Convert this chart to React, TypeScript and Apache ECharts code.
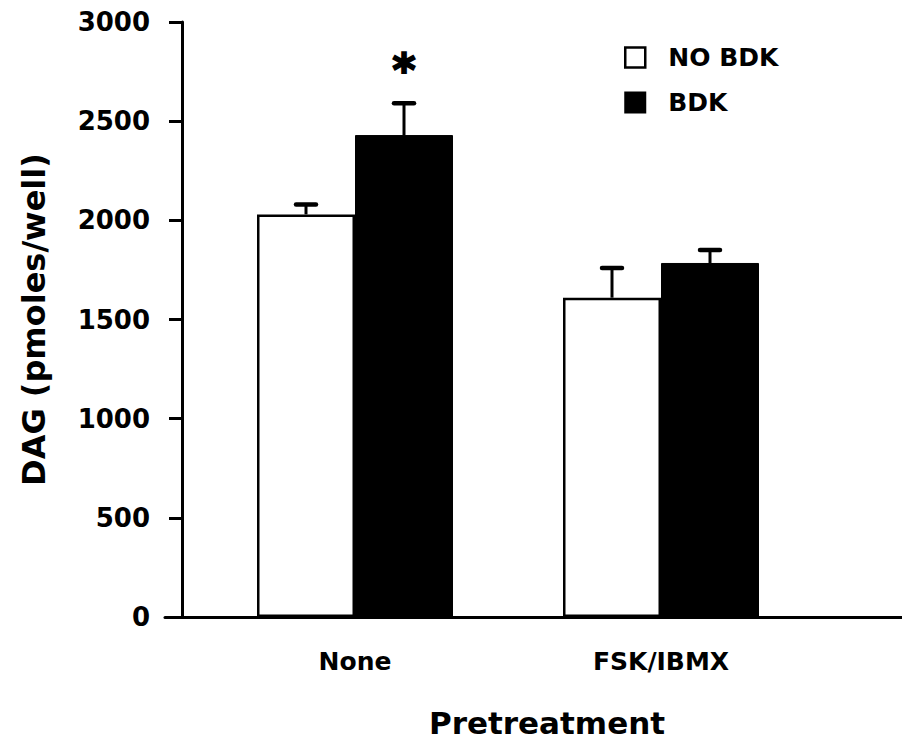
import React, { useEffect, useRef } from "react";
import * as echarts from "echarts";

const categories = ["None", "FSK/IBMX"];
const seriesNames = ["NO BDK", "BDK"];
const noBdkValues = [2030, 1610];
const bdkValues = [2430, 1785];
const noBdkErrors = [50, 150];
const bdkErrors = [160, 65];
// significance marker: category index, series index, value where the asterisk sits
const sigMarks = [[0, 1, 2760]];
const yMin = 0;
const yMax = 3000;
const yInterval = 500;

const FONT = "DejaVu Sans";
const BAR_W = 98;

export default function App() {
  const ref = useRef<HTMLDivElement>(null);
  useEffect(() => {
    const chart = echarts.init(ref.current!, null, { renderer: "svg" });
    const errData: number[][] = [];
    noBdkValues.forEach((v, i) => errData.push([i, v, noBdkErrors[i], -1]));
    bdkValues.forEach((v, i) => errData.push([i, v, bdkErrors[i], 1]));
    const starData = sigMarks.map((m) => [m[0], m[2], m[1] === 0 ? -1 : 1]);

    const option: any = {
      animation: false,
      backgroundColor: "#fff",
      textStyle: { fontFamily: FONT },
      legend: {
        orient: "vertical",
        left: 619,
        top: 40,
        itemWidth: 20,
        itemHeight: 20,
        itemGap: 20,
        selectedMode: false,
        textStyle: {
          fontFamily: FONT,
          fontWeight: "bold",
          fontSize: 25,
          color: "#000",
          padding: [0, 0, 0, 18],
        },
        data: [
          {
            name: seriesNames[0],
            icon: "rect",
            itemStyle: { color: "#fff", borderColor: "#000", borderWidth: 2.5 },
          },
          { name: seriesNames[1], icon: "rect", itemStyle: { color: "#000" } },
        ],
      },
      grid: [
        { left: 202, right: 88, top: 22, bottom: 133 },
        { left: 165, right: 0, top: 22, bottom: 133 },
      ],
      xAxis: [
        {
          type: "category",
          gridIndex: 0,
          data: categories,
          axisLine: { show: false },
          axisTick: { show: false },
          axisLabel: {
            color: "#000",
            fontFamily: FONT,
            fontWeight: "bold",
            fontSize: 25,
            margin: 32,
          },
        },
        {
          type: "value",
          gridIndex: 1,
          min: 0,
          max: 1,
          axisLine: { show: true, onZero: false, lineStyle: { color: "#000", width: 3 } },
          axisTick: { show: false },
          axisLabel: { show: false },
          splitLine: { show: false },
          name: "Pretreatment",
          nameLocation: "middle",
          nameGap: 90,
          nameTextStyle: {
            color: "#000",
            fontFamily: FONT,
            fontWeight: "bold",
            fontSize: 31,
            padding: [0, 0, 0, 27],
          },
        },
      ],
      yAxis: [
        {
          type: "value",
          gridIndex: 0,
          min: yMin,
          max: yMax,
          interval: yInterval,
          offset: 20,
          axisLine: { show: true, lineStyle: { color: "#000", width: 3 } },
          axisTick: { show: true, length: 13, lineStyle: { color: "#000", width: 3 } },
          splitLine: { show: false },
          axisLabel: {
            color: "#000",
            fontFamily: FONT,
            fontWeight: "bold",
            fontSize: 26,
            margin: 32,
            formatter: (v: number) => String(v),
          },
          name: "DAG (pmoles/well)",
          nameLocation: "middle",
          nameGap: 132,
          nameTextStyle: {
            color: "#000",
            fontFamily: FONT,
            fontWeight: "bold",
            fontSize: 32,
          },
        },
        {
          type: "value",
          gridIndex: 1,
          show: false,
          min: 0,
          max: 1,
        },
      ],
      series: [
        {
          name: seriesNames[0],
          type: "bar",
          xAxisIndex: 0,
          yAxisIndex: 0,
          data: noBdkValues,
          barWidth: BAR_W,
          barGap: "0%",
          itemStyle: { color: "#fff", borderColor: "#000", borderWidth: 2.5 },
        },
        {
          name: seriesNames[1],
          type: "bar",
          xAxisIndex: 0,
          yAxisIndex: 0,
          data: bdkValues,
          barWidth: BAR_W,
          barGap: "0%",
          itemStyle: { color: "#000", borderColor: "#000", borderWidth: 1 },
        },
        {
          name: "errors",
          type: "custom",
          xAxisIndex: 0,
          yAxisIndex: 0,
          z: 5,
          data: errData,
          renderItem: (params: any, api: any) => {
            const i = api.value(0);
            const v = api.value(1);
            const e = api.value(2);
            const side = api.value(3);
            const base = api.coord([i, v]);
            const tip = api.coord([i, v + e]);
            const x = base[0] + (side * BAR_W) / 2;
            return {
              type: "group",
              children: [
                {
                  type: "line",
                  shape: { x1: x, y1: base[1], x2: x, y2: tip[1] },
                  style: { stroke: "#000", lineWidth: 3 },
                },
                {
                  type: "line",
                  shape: { x1: x - 10, y1: tip[1], x2: x + 10, y2: tip[1] },
                  style: { stroke: "#000", lineWidth: 4.5, lineCap: "round" },
                },
              ],
            };
          },
        },
        {
          name: "sig",
          type: "custom",
          xAxisIndex: 0,
          yAxisIndex: 0,
          z: 5,
          data: starData,
          renderItem: (params: any, api: any) => {
            const i = api.value(0);
            const v = api.value(1);
            const side = api.value(2);
            const p = api.coord([i, v]);
            return {
              type: "text",
              x: p[0] + (side * BAR_W) / 2,
              y: p[1],
              style: {
                text: "*",
                fill: "#000",
                font: `bold 44px "${FONT}"`,
                align: "center",
                verticalAlign: "middle",
                stroke: "#000",
                lineWidth: 2,
              },
            };
          },
        },
      ],
    };
    chart.setOption(option);
    return () => chart.dispose();
  }, []);
  return (
    <div
      ref={ref}
      style={{ position: "fixed", left: 0, top: 0, width: 902, height: 750, background: "#fff" }}
    />
  );
}
